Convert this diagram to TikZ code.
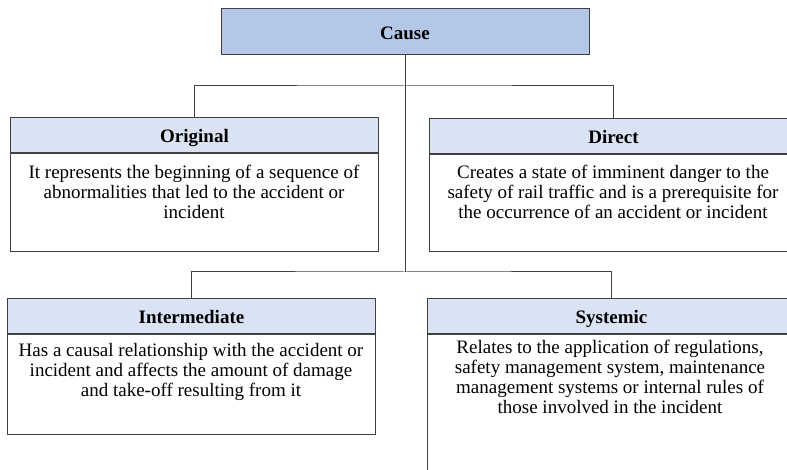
\documentclass[tikz,border=0pt]{standalone}
\usepackage{fontspec}
\setmainfont{Liberation Serif}
\definecolor{causefill}{HTML}{B4C7E7}
\definecolor{headfill}{HTML}{DAE3F3}
\definecolor{edge}{HTML}{404040}
\begin{document}
\begin{tikzpicture}[x=1pt,y=-1pt,
  boxline/.style={draw=edge, line width=1pt},
  causebox/.style={boxline, fill=causefill, minimum width=368pt, minimum height=46pt, inner sep=0pt,
     text height=16pt, text depth=1.5pt, font=\fontsize{19}{20}\selectfont\bfseries},
  headbox/.style={boxline, fill=headfill, minimum width=368pt, minimum height=35pt, inner sep=0pt, anchor=north west,
     text height=16pt, text depth=1.5pt, font=\fontsize{19}{20}\selectfont\bfseries},
  bodybox/.style={boxline, fill=white, minimum width=368pt, inner sep=0pt, anchor=north west},
  bodytext/.style={inner sep=0pt, anchor=north, align=center, font=\fontsize{19}{20}\selectfont},
  conn/.style={draw=edge, line width=1pt}
]
\useasboundingbox (0,0) rectangle (787,470);
\clip (0,0) rectangle (787,470);
\fill[white] (0,0) rectangle (787,470);

\node[causebox] (cause) at (405,32) {Cause};

% Original
\node[headbox] (orighead) at (10,117) {Original};
\node[bodybox, minimum height=98pt] (origbody) at (orighead.south west) {};
\node[bodytext] (origtext) at (194,165) {It represents the beginning of a sequence of\\abnormalities that led to the accident or\\incident};

% Direct
\node[headbox] (dirhead) at (429,118) {Direct};
\node[bodybox, minimum height=97pt] (dirbody) at (dirhead.south west) {};
\node[bodytext] (dirtext) at (613,165) {Creates a state of imminent danger to the\\safety of rail traffic and is a prerequisite for\\the occurrence of an accident or incident};

% Intermediate
\node[headbox] (interhead) at (7,298) {Intermediate};
\node[bodybox, minimum height=100pt] (interbody) at (interhead.south west) {};
\node[bodytext] (intertext) at (191,343) {Has a causal relationship with the accident or\\incident and affects the amount of damage\\and take-off resulting from it};

% Systemic
\node[headbox] (syshead) at (427,298) {Systemic};
\node[bodybox, minimum height=200pt] (sysbody) at (syshead.south west) {};
\node[bodytext] (systext) at (610,340) {Relates to the application of regulations,\\safety management system, maintenance\\management systems or internal rules of\\those involved in the incident};

% connectors
\coordinate (j1) at (405,86);
\coordinate (j2) at (405,272);
\draw[conn] (cause.south) -- (j2);
\draw[conn] (orighead.north) |- (j1) -| (dirhead.north);
\draw[conn] (interhead.north) |- (j2) -| (syshead.north);
\end{tikzpicture}
\end{document}
